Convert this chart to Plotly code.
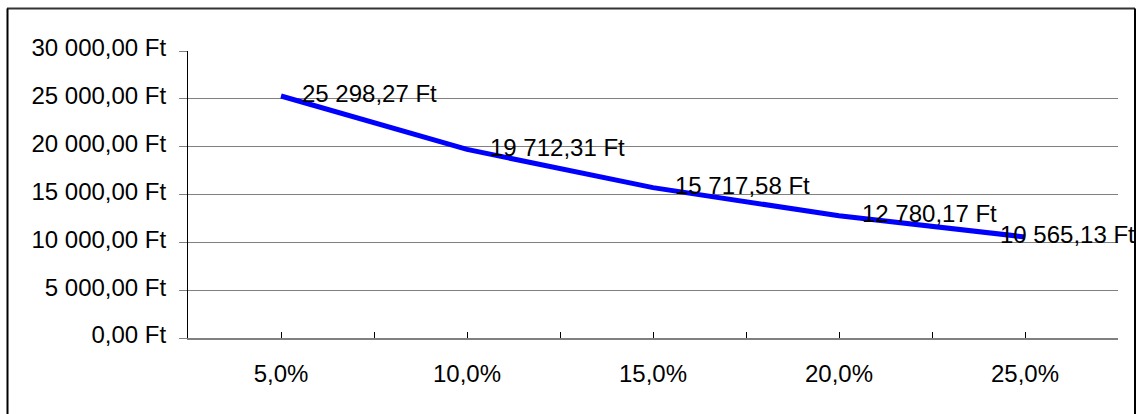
import plotly.graph_objects as go

categories = ["5,0%", "10,0%", "15,0%", "20,0%", "25,0%"]
values = [25298.27, 19712.31, 15717.58, 12780.17, 10565.13]

def huf(v):
    s = f"{v:,.2f}".replace(",", " ").replace(".", ",")
    return s + " Ft"

FONT = "Arial, Liberation Sans, sans-serif"
xs = list(range(len(categories)))

W, H = 1144, 414
L, R, T, B = 188, 26, 51, 76

fig = go.Figure()
fig.add_trace(go.Scatter(
    x=xs, y=values, mode="lines",
    line=dict(color="#0000FF", width=5),
    hoverinfo="skip", showlegend=False,
))

label_xshift = [19, 21, 20, 21, -27]
for i, (x, v) in enumerate(zip(xs, values)):
    fig.add_annotation(
        x=x, y=v, text=huf(v), showarrow=False,
        xanchor="left", yanchor="middle", xshift=label_xshift[i], yshift=2,
        font=dict(family=FONT, size=24, color="black"),
    )

# tick positions every half category (centres and boundaries)
tickvals = []
ticktext = []
for i, c in enumerate(categories):
    tickvals += [i - 0.5, i]
    ticktext += ["", c]
tickvals.append(len(categories) - 0.5)
ticktext.append("")

fig.update_layout(
    width=W, height=H,
    margin=dict(l=L, r=R, t=T, b=B, pad=0),
    paper_bgcolor="white", plot_bgcolor="white",
    separators=", ",
    font=dict(family=FONT, size=24, color="black"),
    xaxis=dict(
        range=[-0.5, len(categories) - 0.5],
        tickmode="array", tickvals=tickvals, ticktext=ticktext,
        ticks="inside", ticklen=6, tickcolor="black", tickwidth=1,
        showline=True, linecolor="#808080", linewidth=2,
        showgrid=False, zeroline=False,
        ticklabelstandoff=13,
        tickfont=dict(family=FONT, size=24, color="black"),
    ),
    yaxis=dict(
        range=[0, 30000], dtick=5000, tick0=0,
        tickformat=",.2f", ticksuffix=" Ft",
        ticks="outside", ticklen=8, tickcolor="#808080", tickwidth=1,
        showline=True, linecolor="black", linewidth=1,
        showgrid=True, gridcolor="#808080", gridwidth=1,
        zeroline=False,
        ticklabelstandoff=8, ticklabelshift=-3,
        tickfont=dict(family=FONT, size=24, color="black"),
    ),
)

# outer chart frame (pixel coords converted to paper coords)
pw, ph = float(W - L - R), float(H - T - B)
def px(xp):
    return (xp - L) / pw
def py(yp):
    return (H - B - yp) / ph
fig.add_shape(type="line", xref="paper", yref="paper",
              x0=px(7), x1=px(1135), y0=py(8.5), y1=py(8.5),
              line=dict(color="#333333", width=2))
fig.add_shape(type="line", xref="paper", yref="paper",
              x0=px(7.5), x1=px(7.5), y0=py(8.5), y1=py(H + 5),
              line=dict(color="black", width=2))
fig.add_shape(type="line", xref="paper", yref="paper",
              x0=px(1135), x1=px(1135), y0=py(8.5), y1=py(H + 5),
              line=dict(color="black", width=2))

fig.write_html(
    "out.html",
    config={"displayModeBar": False},
    post_script="document.body.style.margin='0';document.body.style.overflow='hidden';",
)
